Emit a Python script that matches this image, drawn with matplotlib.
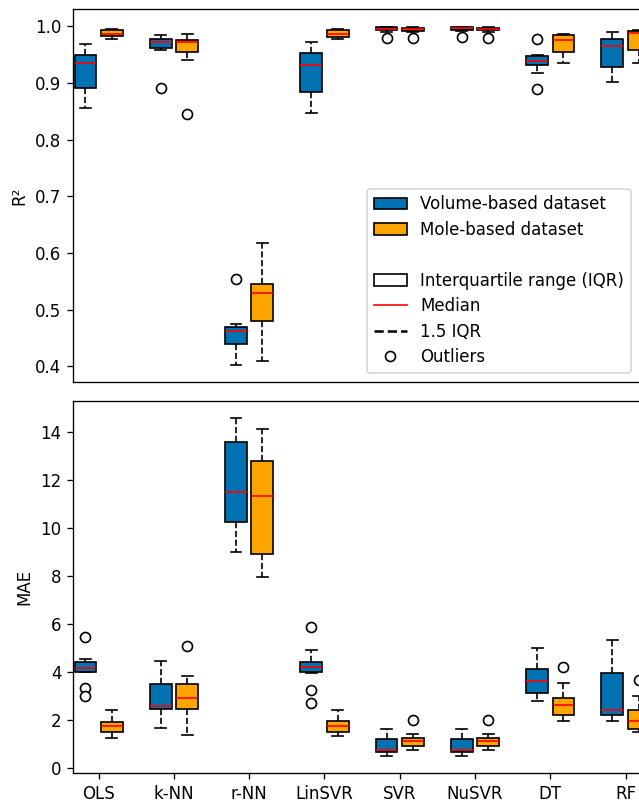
import matplotlib
matplotlib.use("Agg")
import matplotlib.pyplot as plt
from matplotlib.patches import Patch
from matplotlib.lines import Line2D

# models on the x axis
models = ['OLS', 'k-NN', 'r-NN', 'LinSVR', 'SVR', 'NuSVR', 'DT', 'RF']

# box statistics: [whislo, q1, med, q3, whishi]
r2_volume = [[0.855, 0.891, 0.936, 0.950, 0.968],
             [0.959, 0.962, 0.972, 0.978, 0.984],
             [0.403, 0.440, 0.462, 0.470, 0.475],
             [0.847, 0.884, 0.931, 0.953, 0.973],
             [0.990, 0.993, 0.996, 0.998, 0.999],
             [0.991, 0.994, 0.997, 0.998, 0.999],
             [0.918, 0.931, 0.938, 0.947, 0.950],
             [0.902, 0.928, 0.966, 0.978, 0.990]]
r2_volume_out = [[], [0.892], [0.554], [], [0.980], [0.981], [0.978, 0.889], []]

r2_mole = [[0.978, 0.983, 0.987, 0.993, 0.995],
           [0.940, 0.954, 0.972, 0.975, 0.987],
           [0.410, 0.480, 0.529, 0.546, 0.617],
           [0.978, 0.982, 0.987, 0.993, 0.995],
           [0.990, 0.992, 0.995, 0.997, 0.998],
           [0.990, 0.993, 0.995, 0.997, 0.998],
           [0.936, 0.955, 0.975, 0.984, 0.987],
           [0.935, 0.958, 0.988, 0.991, 0.993]]
r2_mole_out = [[], [0.845], [], [], [0.980], [0.980], [], []]

mae_volume = [[3.98, 4.00, 4.18, 4.43, 4.56],
              [1.65, 2.45, 2.60, 3.51, 4.45],
              [9.01, 10.23, 11.50, 13.58, 14.57],
              [3.96, 3.98, 4.22, 4.43, 4.92],
              [0.51, 0.65, 0.76, 1.22, 1.63],
              [0.48, 0.65, 0.76, 1.22, 1.63],
              [2.80, 3.12, 3.64, 4.13, 4.99],
              [1.94, 2.19, 2.42, 3.95, 5.33]]
mae_volume_out = [[5.45, 3.33, 2.98], [], [], [5.86, 3.26, 2.70], [], [], [], []]

mae_mole = [[1.27, 1.51, 1.73, 1.91, 2.40],
            [1.37, 2.45, 2.92, 3.48, 3.84],
            [7.94, 8.91, 11.35, 12.78, 14.12],
            [1.34, 1.48, 1.73, 1.97, 2.42],
            [0.76, 0.93, 1.11, 1.27, 1.41],
            [0.76, 0.93, 1.11, 1.27, 1.41],
            [1.94, 2.19, 2.63, 2.91, 3.53],
            [1.48, 1.62, 1.94, 2.42, 2.98]]
mae_mole_out = [[], [5.10], [], [], [2.01], [2.01], [4.20], [3.67]]

blue = '#0072B2'
orange = '#FFA500'


def to_stats(rows, outs):
    st = []
    for r, o in zip(rows, outs):
        st.append(dict(whislo=r[0], q1=r[1], med=r[2], q3=r[3], whishi=r[4], fliers=o))
    return st


def draw(ax, rows, outs, offset, color):
    pos = [i + 1 + offset for i in range(len(models))]
    b = ax.bxp(to_stats(rows, outs), positions=pos, widths=0.29, patch_artist=True,
               manage_ticks=False,
               boxprops=dict(facecolor=color, edgecolor='black'),
               whiskerprops=dict(linestyle='--', color='black'),
               capprops=dict(color='black'),
               medianprops=dict(color='red'),
               flierprops=dict(marker='o', markerfacecolor='white', markeredgecolor='black'))
    return b


fig = plt.figure(figsize=(639 / 120, 802 / 120), dpi=120)
ax1 = fig.add_axes([0.1142, 0.5241, 0.9049, 0.4643])
ax2 = fig.add_axes([0.1142, 0.0358, 0.9049, 0.4642])

draw(ax1, r2_volume, r2_volume_out, -0.175, blue)
draw(ax1, r2_mole, r2_mole_out, 0.175, orange)
draw(ax2, mae_volume, mae_volume_out, -0.175, blue)
draw(ax2, mae_mole, mae_mole_out, 0.175, orange)

for ax in (ax1, ax2):
    ax.set_xlim(0.659, 8.341)
ax1.set_ylim(0.373, 1.030)
ax2.set_ylim(-0.22, 15.29)
ax1.set_xticks([])
ax2.set_xticks(range(1, len(models) + 1))
ax2.set_xticklabels(models)
ax1.set_ylabel('R²')
ax2.set_ylabel('MAE')

handles = [Patch(facecolor=blue, edgecolor='black'),
           Patch(facecolor=orange, edgecolor='black'),
           Line2D([], [], linestyle='none'),
           Patch(facecolor='white', edgecolor='black'),
           Line2D([], [], color='red', linewidth=1),
           Line2D([], [], color='black', linestyle='--'),
           Line2D([], [], linestyle='none', marker='o', markerfacecolor='white',
                  markeredgecolor='black')]
labels = ['Volume-based dataset', 'Mole-based dataset', '',
          'Interquartile range (IQR)', 'Median', '1.5 IQR', 'Outliers']
ax1.legend(handles, labels, loc='lower left', bbox_to_anchor=(367 / 639, 1 - 373 / 802),
           bbox_transform=fig.transFigure, borderaxespad=0, labelspacing=0.45)

fig.savefig('out.png', dpi=120)
